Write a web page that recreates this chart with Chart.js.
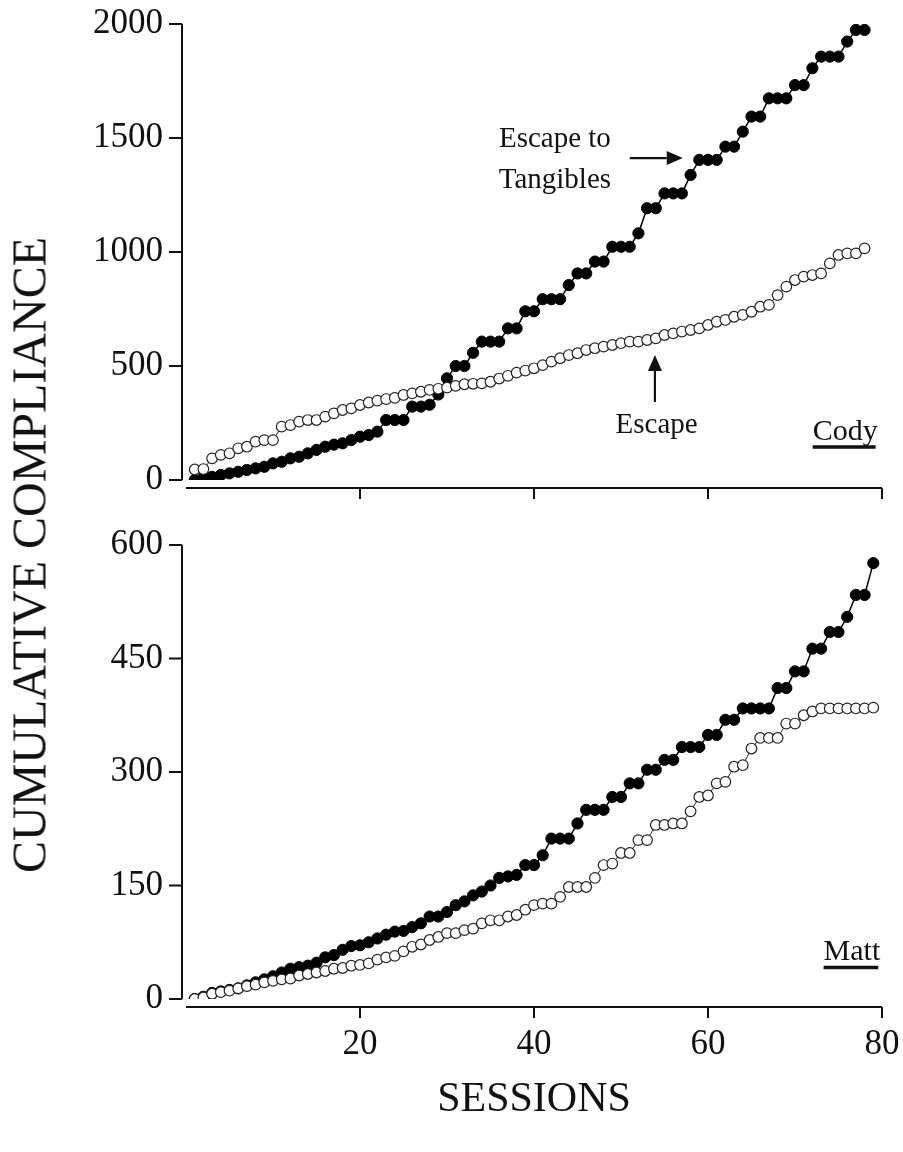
<!DOCTYPE html>
<html>
<head>
<meta charset="utf-8">
<script src="https://cdn.jsdelivr.net/npm/chart.js@4.4.1/dist/chart.umd.min.js"></script>
<style>
  html, body { margin: 0; padding: 0; background: #fff; }
  #wrap { position: relative; width: 903px; height: 1152px; overflow: hidden; background: #fff; }
  .panel { position: absolute; left: 0; width: 903px; }
  #top { top: 0; height: 501px; }
  #bottom { top: 500px; height: 652px; }
  #ytitle {
    position: absolute; left: 29px; top: 555px;
    transform: translate(-50%, -50%) rotate(-90deg);
    font: 48px "Liberation Serif", "Times New Roman", serif;
    color: #111; white-space: nowrap;
  }
</style>
</head>
<body>
<div id="wrap">
  <div class="panel" id="top"><canvas id="chart-cody"></canvas></div>
  <div class="panel" id="bottom"><canvas id="chart-matt"></canvas></div>
  <div id="ytitle">CUMULATIVE COMPLIANCE</div>
</div>
<script>
// ============================================================
// DATA
// ============================================================
const sessions = [
  1, 2, 3, 4, 5, 6, 7, 8, 9, 10, 11, 12, 13, 14, 15, 16, 17, 18, 19, 20,
  21, 22, 23, 24, 25, 26, 27, 28, 29, 30, 31, 32, 33, 34, 35, 36, 37, 38, 39, 40,
  41, 42, 43, 44, 45, 46, 47, 48, 49, 50, 51, 52, 53, 54, 55, 56, 57, 58, 59, 60,
  61, 62, 63, 64, 65, 66, 67, 68, 69, 70, 71, 72, 73, 74, 75, 76, 77, 78, 79,
];

// Cody (78 sessions)
const codyEscapeTangibles = [
  0, 10, 14, 22, 29, 36, 44, 51, 58, 73,
  80, 95, 102, 117, 132, 146, 155, 161, 175, 190,
  197, 212, 263, 263, 263, 322, 322, 330, 375, 446,
  500, 500, 558, 607, 607, 607, 665, 665, 740, 740,
  793, 793, 793, 855, 906, 906, 958, 958, 1023, 1023,
  1023, 1082, 1192, 1192, 1257, 1257, 1257, 1338, 1404, 1404,
  1404, 1462, 1462, 1528, 1594, 1594, 1674, 1674, 1674, 1732,
  1732, 1806, 1857, 1857, 1857, 1923, 1974, 1974,
];
const codyEscape = [
  46, 48, 95, 110, 117, 139, 146, 168, 175, 175,
  234, 241, 256, 263, 263, 278, 292, 307, 314, 329,
  340, 348, 355, 360, 373, 380, 387, 395, 400, 405,
  413, 420, 422, 424, 431, 445, 457, 471, 480, 490,
  504, 519, 534, 548, 556, 570, 578, 585, 592, 600,
  607, 607, 614, 621, 636, 643, 651, 658, 665, 680,
  694, 702, 716, 724, 738, 760, 768, 811, 848, 877,
  892, 899, 906, 950, 987, 994, 994, 1016,
];

// Matt (79 sessions)
const mattEscapeTangibles = [
  0, 3, 8, 10, 12, 14, 18, 22, 26, 30,
  35, 40, 42, 44, 48, 55, 58, 65, 70, 71,
  75, 80, 85, 89, 90, 95, 100, 109, 109, 115,
  124, 129, 137, 142, 150, 160, 162, 164, 177, 177,
  190, 212, 212, 212, 232, 250, 250, 250, 267, 267,
  285, 285, 303, 303, 316, 316, 333, 333, 333, 349,
  349, 369, 369, 384, 384, 384, 384, 411, 411, 433,
  433, 463, 463, 485, 485, 505, 534, 534, 576,
];
const mattEscape = [
  0, 2, 7, 9, 11, 14, 17, 19, 22, 24,
  26, 27, 31, 33, 35, 37, 40, 41, 44, 45,
  47, 52, 55, 57, 63, 69, 72, 78, 82, 87,
  87, 91, 93, 100, 104, 104, 109, 111, 118, 124,
  126, 126, 135, 148, 148, 148, 160, 177, 179, 193,
  193, 210, 210, 230, 230, 232, 232, 248, 267, 269,
  285, 287, 307, 309, 331, 345, 345, 345, 364, 364,
  375, 380, 384, 384, 384, 384, 384, 384, 385,
];

const codyTicks = [0, 500, 1000, 1500, 2000];
const mattTicks = [0, 150, 300, 450, 600];
const sessionTicks = [20, 40, 60, 80];

// ============================================================
// HELPERS
// ============================================================
const SERIF = '"Liberation Serif", "Times New Roman", serif';
const INK = '#111';

const toPoints = (vals) => vals.map((v, i) => ({ x: sessions[i], y: v }));

function series(vals, filled) {
  return {
    data: toPoints(vals),
    order: filled ? 1 : 0,          // open circles sit on top
    borderColor: filled ? '#000' : '#222',
    borderWidth: filled ? 1.5 : 1,
    pointRadius: filled ? 5.6 : 5.3,
    pointBorderWidth: filled ? 1 : 1.2,
    pointBackgroundColor: filled ? '#000' : '#fff',
    pointBorderColor: filled ? '#000' : '#222',
    tension: 0,
  };
}

function drawArrow(ctx, x1, y1, x2, y2) {
  const ang = Math.atan2(y2 - y1, x2 - x1);
  const len = 16, half = 7;
  const bx = x2 - Math.cos(ang) * len, by = y2 - Math.sin(ang) * len;
  ctx.lineWidth = 2.2;
  ctx.beginPath();
  ctx.moveTo(x1, y1);
  ctx.lineTo(bx, by);
  ctx.stroke();
  ctx.beginPath();
  ctx.moveTo(x2, y2);
  ctx.lineTo(bx - Math.sin(ang) * half, by + Math.cos(ang) * half);
  ctx.lineTo(bx + Math.sin(ang) * half, by - Math.cos(ang) * half);
  ctx.closePath();
  ctx.fill();
}

// Prism-style axes: y line pulled left, x line dropped below the plot
const offsetAxes = {
  id: 'offsetAxes',
  beforeDatasetsDraw(chart) {
    const { ctx, chartArea: a, scales: { x, y } } = chart;
    const ax = a.left - 4;
    const ay = a.bottom + 8;
    ctx.save();
    ctx.strokeStyle = INK;
    ctx.lineWidth = 2;
    ctx.beginPath();
    ctx.moveTo(ax, y.getPixelForValue(y.max));
    ctx.lineTo(ax, y.getPixelForValue(y.min));
    y.ticks.forEach(t => {
      const py = y.getPixelForValue(t.value);
      ctx.moveTo(ax - 13, py);
      ctx.lineTo(ax, py);
    });
    ctx.moveTo(x.getPixelForValue(0), ay);
    ctx.lineTo(x.getPixelForValue(x.max), ay);
    x.ticks.forEach(t => {
      const px = x.getPixelForValue(t.value);
      ctx.moveTo(px, ay);
      ctx.lineTo(px, ay + 11);
    });
    ctx.stroke();
    ctx.restore();
  },
};

const panelNotes = {
  id: 'panelNotes',
  afterDatasetsDraw(chart, args, opts) {
    const { ctx, scales: { x, y } } = chart;
    ctx.save();
    ctx.fillStyle = INK;
    ctx.strokeStyle = INK;
    ctx.textBaseline = 'alphabetic';
    ctx.font = '29px ' + SERIF;
    (opts.labels || []).forEach(l => {
      ctx.textAlign = 'center';
      ctx.fillText(l.text, x.getPixelForValue(l.x), y.getPixelForValue(l.y));
    });
    (opts.arrows || []).forEach(a => {
      drawArrow(ctx, x.getPixelForValue(a.x1), y.getPixelForValue(a.y1),
        x.getPixelForValue(a.x2), y.getPixelForValue(a.y2));
    });
    if (opts.name) {
      const n = opts.name;
      ctx.font = '30px ' + SERIF;
      ctx.textAlign = 'right';
      const px = x.getPixelForValue(n.x), py = y.getPixelForValue(n.y);
      ctx.fillText(n.text, px, py);
      const w = ctx.measureText(n.text).width;
      ctx.lineWidth = 3.5;
      ctx.beginPath();
      ctx.moveTo(px - w, py + 7);
      ctx.lineTo(px - 2, py + 7);
      ctx.stroke();
    }
    ctx.restore();
  },
};

// keep the plot box exactly where the layout padding puts it
const noLabelPadding = s => {
  s.paddingTop = 0; s.paddingBottom = 0;
  s.paddingLeft = 0; s.paddingRight = 0;
};

function panelOptions(cfg) {
  return {
    responsive: true,
    maintainAspectRatio: false,
    animation: false,
    layout: { padding: { left: 0, right: 21, top: cfg.padTop, bottom: 0 } },
    plugins: {
      legend: { display: false },
      tooltip: { enabled: false },
      panelNotes: cfg.notes,
    },
    scales: {
      x: {
        type: 'linear',
        min: 0,
        max: 80,
        afterFit: s => { s.height = cfg.xHeight; noLabelPadding(s); },
        afterBuildTicks: s => { s.ticks = sessionTicks.map(v => ({ value: v })); },
        grid: { display: false, drawTicks: false },
        border: { display: false },
        ticks: {
          display: cfg.xLabels, color: INK, font: { family: SERIF, size: 35 },
          padding: 25, maxRotation: 0, callback: v => String(v),
        },
        title: {
          display: !!cfg.xTitle,
          text: cfg.xTitle || '',
          color: INK,
          font: { family: SERIF, size: 42 },
          padding: { top: 0, bottom: 27 },
        },
      },
      y: {
        min: 0,
        max: cfg.ticks[cfg.ticks.length - 1],
        afterFit: s => { s.width = 186; noLabelPadding(s); },
        afterBuildTicks: s => { s.ticks = cfg.ticks.map(v => ({ value: v })); },
        grid: { display: false, drawTicks: false },
        border: { display: false },
        ticks: { color: INK, font: { family: SERIF, size: 35 }, padding: 23, callback: v => String(v) },
      },
    },
  };
}

// ============================================================
// CHARTS
// ============================================================
new Chart(document.getElementById('chart-cody'), {
  type: 'line',
  data: {
    datasets: [
      series(codyEscapeTangibles, true),
      series(codyEscape, false),
    ],
  },
  options: panelOptions({
    padTop: 24,
    xHeight: 21,
    xLabels: false,
    ticks: codyTicks,
    notes: {
      labels: [
        { text: 'Escape to', x: 42.4, y: 1461 },
        { text: 'Tangibles', x: 42.4, y: 1281 },
        { text: 'Escape', x: 54.1, y: 206 },
      ],
      arrows: [
        { x1: 51.0, y1: 1412, x2: 57.1, y2: 1412 },
        { x1: 53.9, y1: 342, x2: 53.9, y2: 548 },
      ],
      name: { text: 'Cody', x: 79.5, y: 175 },
    },
  }),
  plugins: [offsetAxes, panelNotes],
});

new Chart(document.getElementById('chart-matt'), {
  type: 'line',
  data: {
    datasets: [
      series(mattEscapeTangibles, true),
      series(mattEscape, false),
    ],
  },
  options: panelOptions({
    padTop: 45,
    xHeight: 153,
    xLabels: true,
    xTitle: 'SESSIONS',
    ticks: mattTicks,
    notes: {
      name: { text: 'Matt', x: 79.8, y: 51 },
    },
  }),
  plugins: [offsetAxes, panelNotes],
});
</script>
</body>
</html>
